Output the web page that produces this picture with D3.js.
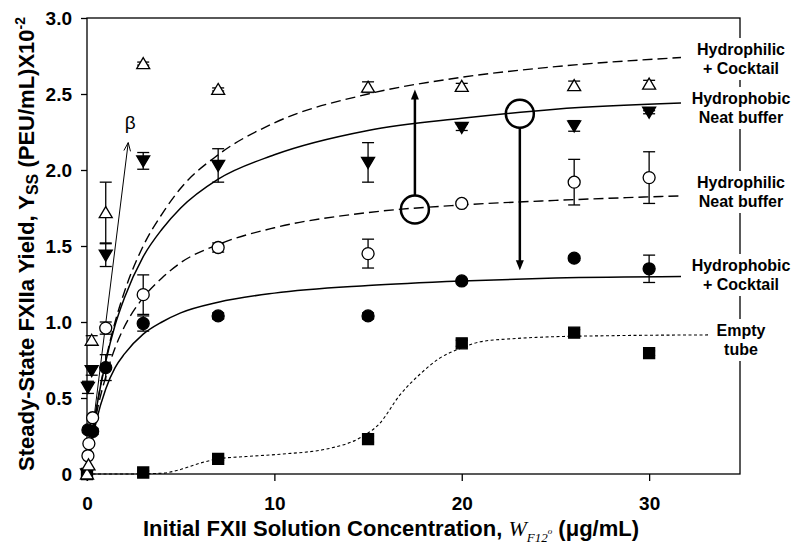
<!DOCTYPE html>
<html>
<head>
<meta charset="utf-8">
<script src="https://cdn.jsdelivr.net/npm/d3@7"></script>
<style>
body { margin: 0; background: #fff; }
text { font-family: "Liberation Sans", Arial, sans-serif; font-weight: bold; fill: #000; }
</style>
</head>
<body>
<svg id="chart" width="800" height="557"></svg>
<script>
// measured points [x, y, error]
var philicCocktail = [[0,0,0],[0.08,0.06,0],[0.25,0.88,0.03],[1,1.72,0.2],[3,2.70,0.01],[7,2.53,0.01],[15,2.545,0.035],[20,2.55,0.02],[26,2.555,0.03],[30,2.565,0.025]];
var phobicNeat = [[0,0,0],[0.05,0.57,0.04],[0.25,0.68,0.03],[1,1.44,0.075],[3,2.06,0.055],[7,2.03,0.11],[15,2.05,0.13],[20,2.28,0.02],[26,2.29,0.035],[30,2.38,0.01]];
var philicNeat = [[0.05,0.12,0],[0.1,0.2,0],[0.3,0.37,0],[1,0.96,0.04],[3,1.18,0.13],[7,1.49,0.03],[15,1.45,0.095],[20,1.78,0.01],[26,1.92,0.15],[30,1.95,0.17]];
var phobicCocktail = [[0.05,0.29,0],[0.3,0.28,0.02],[1,0.70,0.085],[3,0.99,0.05],[7,1.04,0.02],[15,1.04,0.02],[20,1.27,0.01],[26,1.42,0.015],[30,1.35,0.09]];
var emptyTube = [[0,0,0],[3,0.01,0.01],[7,0.10,0.01],[15,0.23,0.02],[20,0.86,0.02],[26,0.93,0.02],[30,0.795,0.015]];

// fitted curves [x, y]
var fitPhilicCocktail = [[0,0],[0.25,0.23],[0.5,0.43],[1,0.75],[1.5,1.0],[2,1.2],[3,1.5],[4,1.71],[5,1.88],[7,2.1],[10,2.31],[15,2.5],[20,2.61],[25,2.68],[31.7,2.74]];
var fitPhobicNeat = [[0,0],[0.25,0.24],[0.5,0.43],[1,0.74],[1.5,0.98],[2,1.16],[3,1.43],[4,1.61],[5,1.75],[7,1.94],[10,2.1],[15,2.26],[20,2.34],[25,2.4],[31.7,2.44]];
var fitPhilicNeat = [[0,0],[0.25,0.21],[0.5,0.39],[1,0.64],[1.5,0.83],[2,0.97],[3,1.16],[4,1.29],[5,1.39],[7,1.51],[10,1.62],[15,1.72],[20,1.77],[25,1.8],[31.7,1.83]];
var fitPhobicCocktail = [[0,0],[0.25,0.2],[0.5,0.35],[1,0.56],[1.5,0.7],[2,0.79],[3,0.92],[4,1.0],[5,1.06],[7,1.13],[10,1.19],[15,1.24],[20,1.27],[25,1.29],[31.7,1.3]];
var fitEmptyTube = [[0,0],[2,0],[4,0.005],[5,0.03],[6,0.07],[7,0.10],[8.5,0.115],[10.3,0.13],[13,0.17],[14.6,0.24],[15.6,0.33],[16.7,0.52],[17.8,0.66],[18.8,0.76],[20,0.83],[21,0.87],[22.7,0.89],[24.2,0.9],[28,0.91],[33.2,0.915]];

// annotations: big rings with arrows [x, ring y, arrow tip y], beta line [x0,y0,x1,y1]
var shiftArrows = [[17.5,1.74,2.53],[23.1,2.37,1.34]];
var betaLine = [0,0,2.2,2.18];

var yTicks = [0,0.5,1.0,1.5,2.0,2.5,3.0];
var xTicks = [0,10,20,30];
var seriesLabels = [["Hydrophilic","+ Cocktail"],["Hydrophobic","Neat buffer"],["Hydrophilic","Neat buffer"],["Hydrophobic","+ Cocktail"],["Empty","tube"]];
var labelBaseline = [55,104,188,271,336];

var svg = d3.select("#chart");
var plotL = 87, plotR = 740, plotT = 18, plotB = 474;

var x = d3.scaleLinear().domain([0, 34.85]).range([plotL, plotR]);
var y = d3.scaleLinear().domain([0, 3]).range([plotB, plotT]);

// axes
var yAxis = svg.append("g").attr("transform", "translate(" + plotL + ",0)")
    .call(d3.axisLeft(y).tickValues(yTicks).tickSize(6).tickPadding(9)
        .tickFormat(function(d){ return d === 0 ? "0" : d3.format(".1f")(d); }));
var xAxis = svg.append("g").attr("transform", "translate(0," + plotB + ")")
    .call(d3.axisBottom(x).tickValues(xTicks).tickSize(7).tickPadding(16));
[yAxis, xAxis].forEach(function(a){
    a.select(".domain").remove();
    a.selectAll("line").attr("stroke", "#000").attr("stroke-width", 1.3);
    a.selectAll("text").style("font-size", "19px").style("font-family", '"Liberation Sans", Arial, sans-serif')
        .style("font-weight", "bold").attr("fill", "#000");
});

svg.append("rect").attr("x", plotL).attr("y", plotT).attr("width", plotR - plotL).attr("height", plotB - plotT)
    .attr("fill", "none").attr("stroke", "#000").attr("stroke-width", 1.3);

// curves
var line = d3.line().x(function(d){ return x(d[0]); }).y(function(d){ return y(d[1]); }).curve(d3.curveMonotoneX);
var fits = [
    {data: fitPhilicCocktail, dash: "10,5", w: 1.4},
    {data: fitPhobicNeat, dash: null, w: 1.5},
    {data: fitPhilicNeat, dash: "10,5", w: 1.4},
    {data: fitPhobicCocktail, dash: null, w: 1.5},
    {data: fitEmptyTube, dash: "3,2.5", w: 1.1}
];
fits.forEach(function(f){
    svg.append("path").attr("d", line(f.data)).attr("fill", "none").attr("stroke", "#000")
        .attr("stroke-width", f.w).attr("stroke-dasharray", f.dash);
});

// beta line
(function(){
    var x0 = x(betaLine[0]), y0 = y(betaLine[1]), x1 = x(betaLine[2]), y1 = y(betaLine[3]);
    svg.append("line").attr("x1", x0).attr("y1", y0).attr("x2", x1).attr("y2", y1)
        .attr("stroke", "#000").attr("stroke-width", 1);
    var ang = Math.atan2(y1 - y0, x1 - x0), len = 9, spread = 0.38;
    svg.append("path").attr("d", "M" + (x1 - len * Math.cos(ang - spread)) + "," + (y1 - len * Math.sin(ang - spread)) +
        "L" + x1 + "," + y1 + "L" + (x1 - len * Math.cos(ang + spread)) + "," + (y1 - len * Math.sin(ang + spread)))
        .attr("fill", "none").attr("stroke", "#000").attr("stroke-width", 1);
    svg.append("text").attr("x", x1 + 2).attr("y", y1 - 14).attr("text-anchor", "middle")
        .style("font-weight", "normal").style("font-size", "19px").text("β");
})();

// error bars + markers
function errBars(data) {
    var g = svg.append("g").attr("stroke", "#000").attr("stroke-width", 1.3);
    data.filter(function(d){ return d[2] > 0; }).forEach(function(d){
        var cx = x(d[0]), hi = y(d[1] + d[2]), lo = y(d[1] - d[2]);
        g.append("line").attr("x1", cx).attr("x2", cx).attr("y1", hi).attr("y2", lo);
        g.append("line").attr("x1", cx - 6).attr("x2", cx + 6).attr("y1", hi).attr("y2", hi);
        g.append("line").attr("x1", cx - 6).attr("x2", cx + 6).attr("y1", lo).attr("y2", lo);
    });
}
function triUp(cx, cy){ return "M" + cx + "," + (cy - 6) + "L" + (cx + 6.5) + "," + (cy + 5) + "L" + (cx - 6.5) + "," + (cy + 5) + "Z"; }
function triDown(cx, cy){ return "M" + cx + "," + (cy + 6) + "L" + (cx + 6.5) + "," + (cy - 5) + "L" + (cx - 6.5) + "," + (cy - 5) + "Z"; }
function square(cx, cy){ return "M" + (cx - 5.5) + "," + (cy - 5.5) + "h11v11h-11Z"; }

var groups = [
    {data: emptyTube, shape: "square", fill: "#000"},
    {data: phobicCocktail, shape: "circle", fill: "#000"},
    {data: philicNeat, shape: "circle", fill: "#fff"},
    {data: phobicNeat, shape: "down", fill: "#000"},
    {data: philicCocktail, shape: "up", fill: "#fff"}
];
groups.forEach(function(gr){ errBars(gr.data); });
groups.forEach(function(gr){
    var g = svg.append("g").attr("fill", gr.fill).attr("stroke", "#000").attr("stroke-width", 1.3);
    gr.data.forEach(function(d){
        var cx = x(d[0]), cy = y(d[1]);
        if (gr.shape === "circle") g.append("circle").attr("cx", cx).attr("cy", cy).attr("r", 6);
        else if (gr.shape === "up") g.append("path").attr("d", triUp(cx, cy));
        else if (gr.shape === "down") g.append("path").attr("d", triDown(cx, cy));
        else g.append("path").attr("d", square(cx, cy));
    });
});

// big rings and shift arrows
shiftArrows.forEach(function(a){
    var cx = x(a[0]), cy = y(a[1]), tip = y(a[2]), r = 14;
    var dir = tip < cy ? -1 : 1;
    svg.append("circle").attr("cx", cx).attr("cy", cy).attr("r", r)
        .attr("fill", "none").attr("stroke", "#000").attr("stroke-width", 2.5);
    svg.append("line").attr("x1", cx).attr("x2", cx).attr("y1", cy + dir * r).attr("y2", tip - dir * 6)
        .attr("stroke", "#000").attr("stroke-width", 2.5);
    svg.append("path").attr("d", "M" + cx + "," + tip + "L" + (cx + 4) + "," + (tip - dir * 10) + "L" + (cx - 4) + "," + (tip - dir * 10) + "Z")
        .attr("fill", "#000");
});

// series labels on the right border
seriesLabels.forEach(function(lines, i){
    var g = svg.append("g");
    var bg = g.append("rect").attr("fill", "#fff");
    var t = g.append("text").attr("text-anchor", "middle").style("font-size", "16px");
    lines.forEach(function(s, j){
        t.append("tspan").attr("x", plotR + 1).attr("y", labelBaseline[i] + j * 19).text(s);
    });
    var bb = t.node().getBBox();
    bg.attr("x", bb.x - 2).attr("y", bb.y - 3).attr("width", bb.width + 4).attr("height", bb.height + 6);
});

// axis titles
var yt = svg.append("text").attr("transform", "translate(34,244) rotate(-90)")
    .attr("text-anchor", "middle").style("font-size", "22px");
yt.append("tspan").text("Steady-State FXIIa Yield, Y");
yt.append("tspan").attr("dy", 4).style("font-size", "16px").text("SS");
yt.append("tspan").attr("dy", -4).text("\u00a0(PEU/mL)X10");
yt.append("tspan").attr("dy", -9).style("font-size", "14px").text("-2");

var xt = svg.append("text").attr("x", 143).attr("y", 536).style("font-size", "22px");
xt.append("tspan").text("Initial FXII Solution Concentration,\u00a0");
xt.append("tspan").style("font-family", '"Liberation Serif", "Times New Roman", serif')
    .style("font-style", "italic").style("font-weight", "normal").text("W");
xt.append("tspan").attr("dy", 6).style("font-family", '"Liberation Serif", "Times New Roman", serif')
    .style("font-style", "italic").style("font-weight", "normal").style("font-size", "13px").text("F12");
xt.append("tspan").attr("dy", -8).style("font-family", '"Liberation Serif", "Times New Roman", serif')
    .style("font-style", "italic").style("font-weight", "normal").style("font-size", "9px").text("o");
xt.append("tspan").attr("dy", 2).text("\u00a0(\u03bcg/mL)");
</script>
</body>
</html>
